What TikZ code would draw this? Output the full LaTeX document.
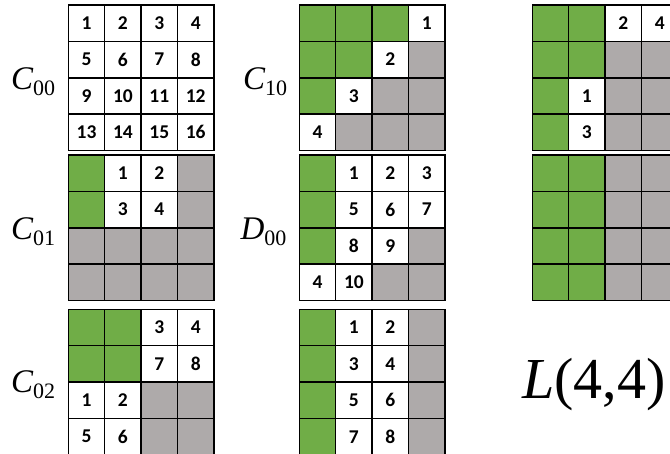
\documentclass[tikz,border=0pt]{standalone}
\usepackage{fontspec}
\setmainfont{Liberation Serif}
\newfontfamily\numfont{Carlito}
\definecolor{cgreen}{HTML}{70AD47}
\definecolor{cgray}{HTML}{AEAAAA}
\tikzset{
  cellbase/.style={draw=black, line width=1.5pt, rectangle, minimum width=36.4pt,
    minimum height=36.4pt, inner sep=0pt, outer sep=0pt,
    font=\numfont\bfseries\fontsize{19.5}{19.5}\selectfont},
  cellw/.style={cellbase, fill=white},
  cellg/.style={cellbase, fill=cgreen},
  cellx/.style={cellbase, fill=cgray},
  lbl/.style={anchor=base west, inner sep=0pt, outer sep=0pt},
}
\def\valG{G}\def\valX{X}
\newcommand\gridcell[4]{%
  \edef\tmpv{#4}%
  \ifx\tmpv\valG \node[cellg] (#1) at (#2,#3) {};%
  \else\ifx\tmpv\valX \node[cellx] (#1) at (#2,#3) {};%
  \else \node[cellw] (#1) at (#2,#3) {\tmpv};%
  \fi\fi}
\newcommand\mkgrid[4]{%
  \foreach \rowv [count=\ri] in {#4} {
    \foreach \cellv [count=\ci] in \rowv {
      \pgfmathsetmacro\cxx{#2+(\ci-0.5)*36.4}
      \pgfmathsetmacro\cyy{#3+(\ri-0.5)*36.4}
      \gridcell{#1-\ri-\ci}{\cxx}{\cyy}{\cellv}
    }
  }}
\newcommand\biglabel[2]{{\fontsize{33}{33}\selectfont\itshape #1}\raisebox{-6pt}{\fontsize{22}{22}\selectfont #2}}
\begin{document}
\begin{tikzpicture}[x=1pt,y=-1pt]
\useasboundingbox (0,0) rectangle (670,454);
\fill[white] (0,0) rectangle (670,454);
\begin{scope}
\clip (0,0) rectangle (670,454);
\mkgrid{ga}{68.3}{5}{{1,2,3,4},{5,6,7,8},{9,10,11,12},{13,14,15,16}}
\mkgrid{gb}{68.3}{155}{{G,1,2,X},{G,3,4,X},{X,X,X,X},{X,X,X,X}}
\mkgrid{gc}{68.3}{309.3}{{G,G,3,4},{G,G,7,8},{1,2,X,X},{5,6,X,X}}
\mkgrid{gd}{299.3}{5}{{G,G,G,1},{G,G,2,X},{G,3,X,X},{4,X,X,X}}
\mkgrid{ge}{299.3}{155}{{G,1,2,3},{G,5,6,7},{G,8,9,X},{4,10,X,X}}
\mkgrid{gf}{299.3}{309.3}{{G,1,2,X},{G,3,4,X},{G,5,6,X},{G,7,8,X}}
\mkgrid{gg}{532.3}{5}{{G,G,2,4},{G,G,X,X},{G,1,X,X},{G,3,X,X}}
\mkgrid{gh}{532.3}{155}{{G,G,X,X},{G,G,X,X},{G,G,X,X},{G,G,X,X}}
\end{scope}
\node[lbl] (lc00) at (11,89.3) {\biglabel{C}{00}};
\node[lbl] (lc01) at (11,239.3) {\biglabel{C}{01}};
\node[lbl] (lc02) at (11,392.5) {\biglabel{C}{02}};
\node[lbl] (lc10) at (243,89.3) {\biglabel{C}{10}};
\node[lbl] (ld00) at (240.5,239.3) {\biglabel{D}{00}};
\node[lbl] (ll44) at (522,398.5) {\fontsize{58}{58}\selectfont\textit{L}(4,4)};
\end{tikzpicture}
\end{document}
